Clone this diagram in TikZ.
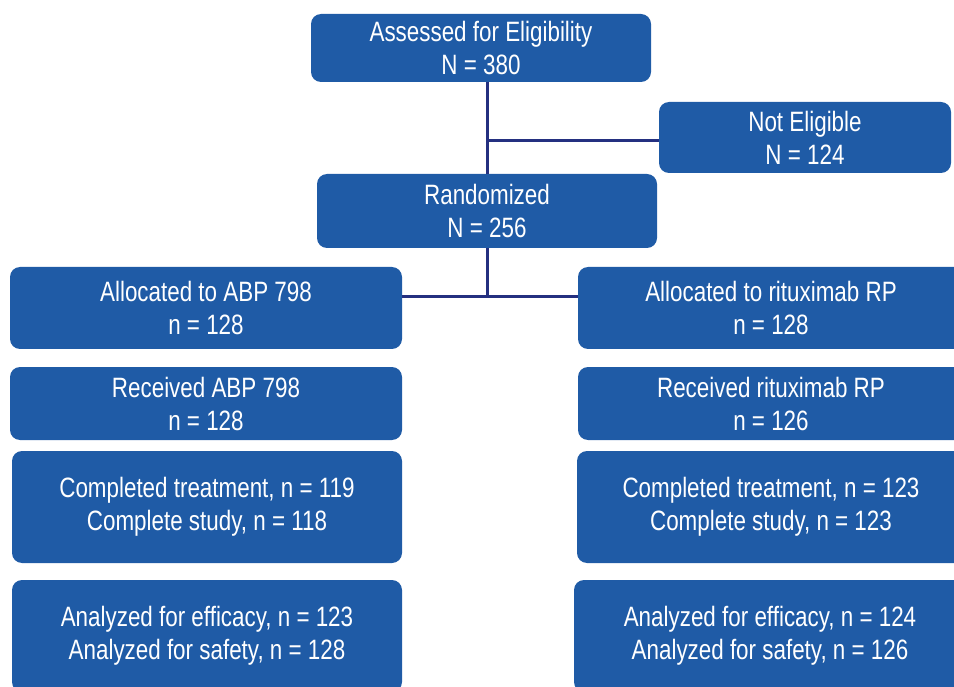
\documentclass[tikz,border=0pt]{standalone}
\usepackage{fontspec}
\setmainfont{Liberation Sans}[FakeStretch=0.80]
\definecolor{boxblue}{RGB}{31,91,166}
\definecolor{linenavy}{RGB}{36,48,128}
\tikzset{
  flowbox/.style={fill=boxblue, text=white, rounded corners=10pt, align=center,
    inner sep=0pt, font=\fontsize{28}{33}\selectfont},
  flowline/.style={draw=linenavy, line width=3pt}
}
\begin{document}
\begin{tikzpicture}[x=1pt,y=-1pt]
  \useasboundingbox (0,0) rectangle (954,687);
  \clip (0,0) rectangle (954,687);
  % screening and randomisation
  \node[flowbox, minimum width=340, minimum height=68] (assess) at (481,48) {Assessed for Eligibility\\N = 380};
  \node[flowbox, minimum width=292, minimum height=71] (noteleg) at (805,137.5) {Not Eligible\\N = 124};
  \node[flowbox, minimum width=340, minimum height=74] (rand) at (487,211) {Randomized\\N = 256};
  % the two arms
  \node[flowbox, minimum width=392, minimum height=82] (allocA) at (206,308) {Allocated to ABP 798\\n = 128};
  \node[flowbox, minimum width=386, minimum height=82] (allocR) at (771,308) {Allocated to rituximab RP\\n = 128};
  \node[flowbox, minimum width=392, minimum height=73] (recvA) at (206,403.5) {Received ABP 798\\n = 128};
  \node[flowbox, minimum width=386, minimum height=73] (recvR) at (771,403.5) {Received rituximab RP\\n = 126};
  \node[flowbox, minimum width=390, minimum height=112] (compA) at (207,507) {Completed treatment, n = 119\\Complete study, n = 118};
  \node[flowbox, minimum width=388, minimum height=112] (compR) at (771,507) {Completed treatment, n = 123\\Complete study, n = 123};
  \node[flowbox, minimum width=390, minimum height=112] (analA) at (207,636) {Analyzed for efficacy, n = 123\\Analyzed for safety, n = 128};
  \node[flowbox, minimum width=392, minimum height=112] (analR) at (770,636) {Analyzed for efficacy, n = 124\\Analyzed for safety, n = 126};
  % connectors
  \coordinate (excl) at (487,141);
  \coordinate (split) at (487,297);
  \draw[flowline] (assess.south -| rand.north) -- (rand.north);
  \draw[flowline] (excl) -- (noteleg.west |- excl);
  \draw[flowline] (rand.south) -- (split);
  \draw[flowline] (allocA.east |- split) -- (allocR.west |- split);
\end{tikzpicture}
\end{document}
